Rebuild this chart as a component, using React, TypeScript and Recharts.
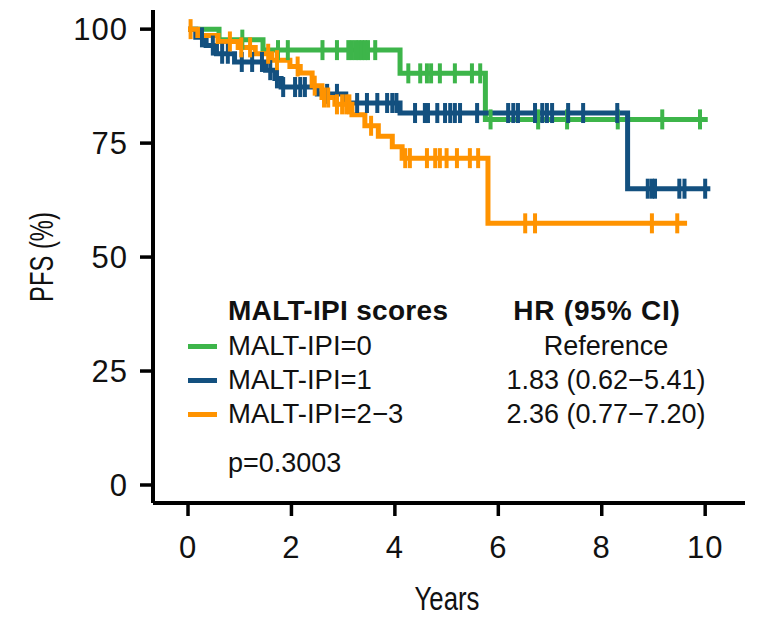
import React from 'react'
import { ComposedChart, Line, Scatter, XAxis, YAxis } from 'recharts'

// step curves: event times (years) and PFS (%) after each step
const greenTimes = [0, 0.6, 1.45, 4.1, 5.75]
const greenSurv = [100, 97.7, 95.4, 90.3, 80.2]
const greenEnd = 10.05
const greenCensor = [1.05, 1.74, 1.93, 2.6, 2.88, 3.1, 3.17, 3.24, 3.3, 3.36, 3.42, 3.48, 3.62, 4.26, 4.49, 4.62, 4.7, 4.87, 5.16, 5.49, 5.65, 5.85, 6.77, 7.33, 8.31, 9.17, 9.9]

const blueTimes = [0, 0.15, 0.35, 0.55, 0.9, 1.5, 1.68, 1.8, 2.5, 3.05, 4.1, 8.5]
const blueSurv = [100, 98.2, 96.4, 94.6, 92.8, 91.0, 89.2, 87.3, 85.8, 83.8, 81.6, 65]
const blueEnd = 10.1
const blueCensor = [0.27, 0.48, 0.66, 0.77, 1.04, 1.24, 1.43, 1.59, 1.72, 1.84, 2.07, 2.17, 2.26, 2.69, 2.88, 3.27, 3.46, 3.66, 3.85, 3.95, 4.03, 4.39, 4.58, 4.64, 4.82, 4.97, 5.07, 5.16, 5.26, 5.59, 6.19, 6.29, 6.38, 6.71, 6.85, 6.94, 7.04, 7.35, 7.64, 8.3, 8.89, 8.97, 9.03, 9.5, 9.6, 10.0]

const orangeTimes = [0, 0.19, 0.58, 0.97, 1.3, 1.62, 1.97, 2.17, 2.4, 2.59, 2.84, 3.17, 3.42, 3.68, 3.95, 4.14, 5.8]
const orangeSurv = [100, 98.6, 97.3, 96.0, 94.6, 93.2, 91.8, 90.4, 87.6, 85.0, 83.5, 81.2, 78.8, 76.5, 74.2, 71.7, 57.4]
const orangeEnd = 9.65
const orangeCensor = [0.05, 0.81, 1.03, 1.2, 1.55, 1.72, 2.12, 2.45, 2.63, 2.71, 2.88, 2.98, 3.06, 3.12, 3.54, 4.2, 4.29, 4.62, 4.78, 4.87, 5.0, 5.2, 5.45, 5.61, 6.52, 6.71, 8.97, 9.46]

const xTicks = [0, 2, 4, 6, 8, 10]
const yTicks = [0, 25, 50, 75, 100]

const groups = ['MALT-IPI=0', 'MALT-IPI=1', 'MALT-IPI=2\u22123']
const hrs = ['Reference', '1.83 (0.62\u22125.41)', '2.36 (0.77\u22127.20)']
const pValue = 'p=0.3003'

const GREEN = '#3db54a'
const BLUE = '#13507f'
const ORANGE = '#ff9300'

const FONT = '"Liberation Sans", Arial, Helvetica, sans-serif'

function curve(times: number[], surv: number[], end: number) {
  const pts = times.map((t, i) => ({ t, s: surv[i] }))
  pts.push({ t: end, s: surv[surv.length - 1] })
  return pts
}

function survAt(times: number[], surv: number[], t: number) {
  let s = surv[0]
  times.forEach((tt, i) => { if (tt <= t) s = surv[i] })
  return s
}

function censors(times: number[], surv: number[], cens: number[]) {
  return cens.map(t => ({ t, s: survAt(times, surv, t) }))
}

const tickMark = (color: string) => (props: any) => (
  <rect x={props.cx - 2} y={props.cy - 10} width={4} height={20} fill={color} />
)

export default function App() {
  const series = [
    { color: GREEN, line: curve(greenTimes, greenSurv, greenEnd), cens: censors(greenTimes, greenSurv, greenCensor) },
    { color: BLUE, line: curve(blueTimes, blueSurv, blueEnd), cens: censors(blueTimes, blueSurv, blueCensor) },
    { color: ORANGE, line: curve(orangeTimes, orangeSurv, orangeEnd), cens: censors(orangeTimes, orangeSurv, orangeCensor) },
  ]
  const colors = [GREEN, BLUE, ORANGE]
  const tickStyle = { fill: '#111', fontSize: 31, fontFamily: FONT, letterSpacing: 1 }

  return (
    <div style={{ position: 'relative', width: 749, height: 609, fontFamily: FONT, color: '#111' }}>
      <ComposedChart width={749} height={609} margin={{ top: 2, right: 12, left: 0, bottom: 0 }}>
        <XAxis
          dataKey="t" type="number" domain={[-0.677, 10.77]} ticks={xTicks} allowDataOverflow
          height={114} tickSize={13} tickMargin={20}
          axisLine={{ stroke: '#000', strokeWidth: 4 }} tickLine={{ stroke: '#000', strokeWidth: 3.5 }}
          tick={tickStyle}
        />
        <YAxis
          type="number" domain={[-3.95, 104.2]} ticks={yTicks} allowDataOverflow
          width={145} tickSize={13} tickMargin={12}
          axisLine={{ stroke: '#000', strokeWidth: 4 }} tickLine={{ stroke: '#000', strokeWidth: 3.5 }}
          tick={tickStyle}
        />
        {series.flatMap((g, i) => [
          <Line key={'l' + i} data={g.line} dataKey="s" type="stepAfter" stroke={g.color} strokeWidth={5}
            dot={false} activeDot={false} isAnimationActive={false} />,
          <Scatter key={'c' + i} data={g.cens} dataKey="s" fill={g.color} shape={tickMark(g.color)}
            isAnimationActive={false} />,
        ])}
      </ComposedChart>

      <div style={{ position: 'absolute', left: 34, top: 249, transform: 'translate(-50%, -50%) rotate(-90deg) scaleX(0.72)',
        fontSize: 33, whiteSpace: 'nowrap' }}>PFS (%)</div>
      <div style={{ position: 'absolute', left: 439, top: 591, transform: 'translate(-50%, -50%) scaleX(0.78)',
        fontSize: 33, whiteSpace: 'nowrap' }}>Years</div>

      <div style={{ position: 'absolute', left: 220, top: 303, transform: 'translateY(-50%)', fontSize: 28, fontWeight: 'bold', letterSpacing: 0.3, whiteSpace: 'nowrap' }}>MALT-IPI scores</div>
      <div style={{ position: 'absolute', left: 589, top: 303, transform: 'translate(-50%, -50%)', fontSize: 28, fontWeight: 'bold', letterSpacing: 0.8, whiteSpace: 'nowrap' }}>HR (95% CI)</div>
      {groups.map((g, i) => (
        <React.Fragment key={g}>
          <div style={{ position: 'absolute', left: 180, top: 336 + i * 34, width: 29, height: 5, background: colors[i] }} />
          <div style={{ position: 'absolute', left: 220, top: 338 + i * 34, transform: 'translateY(-50%)', fontSize: 27.5, whiteSpace: 'nowrap' }}>{g}</div>
          <div style={{ position: 'absolute', left: 598, top: 338 + i * 34, transform: 'translate(-50%, -50%)', fontSize: 27, whiteSpace: 'nowrap' }}>{hrs[i]}</div>
        </React.Fragment>
      ))}
      <div style={{ position: 'absolute', left: 220, top: 455, transform: 'translateY(-50%)', fontSize: 27, whiteSpace: 'nowrap' }}>{pValue}</div>
    </div>
  )
}
